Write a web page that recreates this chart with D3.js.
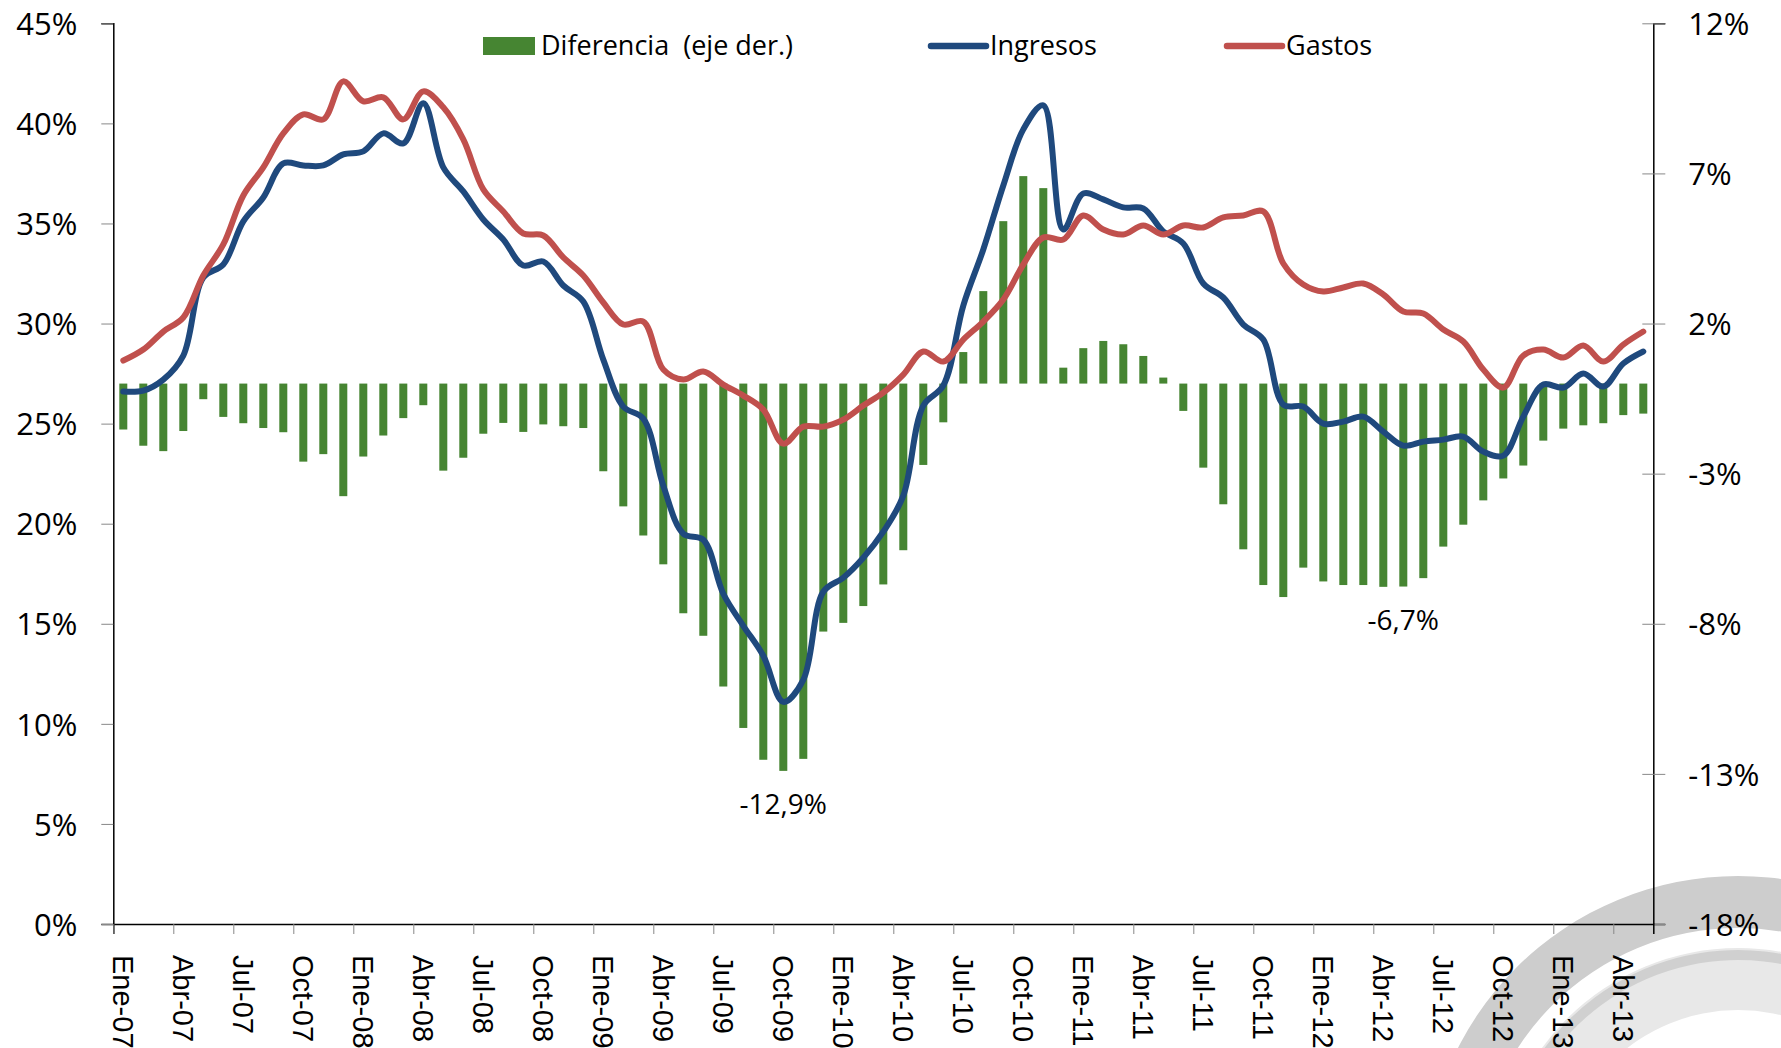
<!DOCTYPE html>
<html>
<head>
<meta charset="utf-8">
<script src="https://cdn.jsdelivr.net/npm/d3@7"></script>
<style>
  body { margin: 0; background: #fff; }
  svg { display: block; }
</style>
</head>
<body>
<div id="chart"></div>
<script>
const meses = ["Ene", "Feb", "Mar", "Abr", "May", "Jun", "Jul", "Ago", "Sep", "Oct", "Nov", "Dic"]
const anios = ["07", "08", "09", "10", "11", "12", "13"]
// Ene-07 ... May-13
const categorias = anios.flatMap(a => meses.map(m => `${m}-${a}`)).slice(0, 77)

const ingresos = [
  26.6, 26.65, 27.2, 28.4, 32.3, 32.95, 35.1, 36.3, 38.0, 37.9, 37.9, 38.45,
  38.6, 39.5, 39.0, 41.0, 37.8, 36.6, 35.2, 34.2, 32.9, 33.1, 31.9, 31.1,
  28.2, 25.85, 25.25, 21.9, 19.5, 19.2, 16.5, 14.9, 13.4, 11.1, 12.2, 16.6,
  17.3, 18.3, 19.6, 21.4, 25.9, 26.9, 30.9, 33.7, 36.9, 39.7, 40.9, 34.7,
  36.5, 36.2, 35.8, 35.75, 34.6, 34.0, 32.0, 31.3, 29.95, 29.2, 25.95, 25.85,
  25.0, 25.1, 25.35, 24.6, 23.9, 24.1, 24.2, 24.35, 23.6, 23.4, 25.35, 26.95,
  26.8, 27.5, 26.85, 28.0, 28.6
]

const gastos = [
  28.15, 28.7, 29.6, 30.3, 32.4, 33.95, 36.4, 37.8, 39.5, 40.45, 40.2, 42.1,
  41.1, 41.3, 40.2, 41.6, 40.8, 39.2, 36.7, 35.6, 34.5, 34.4, 33.3, 32.4,
  31.05, 29.95, 30.1, 27.7, 27.2, 27.6, 26.95, 26.4, 25.7, 24.0, 24.85, 24.85,
  25.2, 25.9, 26.55, 27.45, 28.6, 28.1, 29.2, 30.1, 31.2, 32.95, 34.3, 34.2,
  35.4, 34.7, 34.45, 34.9, 34.45, 34.9, 34.8, 35.3, 35.4, 35.6, 33.0, 31.95,
  31.6, 31.8, 32.0, 31.45, 30.6, 30.5, 29.7, 29.1, 27.7, 26.8, 28.4, 28.7,
  28.3, 28.9, 28.1, 28.95, 29.6
]

// eje derecho
const diferencia = [
  -1.53, -2.07, -2.25, -1.58, -0.52, -1.11, -1.32, -1.48, -1.62, -2.6, -2.35, -3.75,
  -2.43, -1.73, -1.15, -0.72, -2.9, -2.47, -1.67, -1.31, -1.61, -1.36, -1.42, -1.48,
  -2.92, -4.09, -5.06, -6.02, -7.65, -8.4, -10.09, -11.47, -12.53, -12.9, -12.5, -8.26,
  -7.97, -7.41, -6.69, -5.55, -2.71, -1.29, 1.05, 3.08, 5.41, 6.91, 6.51, 0.53,
  1.18, 1.42, 1.31, 0.92, 0.2, -0.91, -2.8, -4.02, -5.52, -6.71, -7.11, -6.13,
  -6.59, -6.71, -6.71, -6.77, -6.76, -6.48, -5.43, -4.7, -3.89, -3.16, -2.73, -1.9,
  -1.5, -1.39, -1.32, -1.05, -1.0
]

const ticksIzq = [0, 5, 10, 15, 20, 25, 30, 35, 40, 45]
const ticksDer = [-18, -13, -8, -3, 2, 7, 12]
const etiquetas = [{ i: 33, texto: "-12,9%" }, { i: 64, texto: "-6,7%" }]

const width = 1781
const height = 1048
const font = "'Open Sans', 'Noto Sans', sans-serif"
const colors = { dif: "#468532", ing: "#1F497D", gas: "#C0504D" }

const svg = d3
  .select("#chart")
  .append("svg")
  .attr("width", width)
  .attr("height", height)
  .attr("viewBox", [0, 0, width, height])
  .style("font-family", font)

// marca de agua (logo) abajo a la derecha
const wm = svg.append("g").attr("transform", "translate(1738,1190)")
wm.append("path")
  .attr("d", d3.arc()({ innerRadius: 262, outerRadius: 314, startAngle: 0, endAngle: 2 * Math.PI }))
  .attr("fill", "#cdcdcd")
wm.append("path")
  .attr("d", d3.arc()({ innerRadius: 180, outerRadius: 242, startAngle: 0, endAngle: 2 * Math.PI }))
  .attr("fill", "#e8e8e8")
wm.append("path")
  .attr("d", d3.arc()({ innerRadius: 230, outerRadius: 240, startAngle: -1.2, endAngle: 0.3 }))
  .attr("fill", "#d0d0d0")

const plotLeft = 113.3
const plotRight = 1653.3
const plotTop = 23.3
const plotBottom = 924

const x = d3
  .scaleBand()
  .domain(categorias)
  .range([plotLeft, plotRight])
  .paddingInner(0.6)
  .paddingOuter(0.3)
const cx = i => x(categorias[i]) + x.bandwidth() / 2
const edge = d3.scaleLinear().domain([0, categorias.length]).range([plotLeft, plotRight])

const yL = d3.scaleLinear().domain([0, 45]).range([plotBottom, plotTop])
const yR = d3.scaleLinear().domain([-18, 12]).range([plotBottom, plotTop])

// barras
svg.append("g")
  .selectAll("rect")
  .data(diferencia)
  .join("rect")
  .attr("x", (d, i) => x(categorias[i]))
  .attr("width", x.bandwidth())
  .attr("y", d => yR(Math.max(0, d)))
  .attr("height", d => Math.abs(yR(d) - yR(0)))
  .attr("fill", colors.dif)

// lineas
const line = data => d3
  .line()
  .x((d, i) => cx(i))
  .y(d => yL(d))
  .curve(d3.curveCatmullRom.alpha(0.5))(data)

svg.append("path")
  .attr("d", line(ingresos))
  .attr("fill", "none")
  .attr("stroke", colors.ing)
  .attr("stroke-width", 6)
  .attr("stroke-linejoin", "round")
  .attr("stroke-linecap", "round")

svg.append("path")
  .attr("d", line(gastos))
  .attr("fill", "none")
  .attr("stroke", colors.gas)
  .attr("stroke-width", 6)
  .attr("stroke-linejoin", "round")
  .attr("stroke-linecap", "round")

// etiquetas de datos
svg.append("g")
  .selectAll("text")
  .data(etiquetas)
  .join("text")
  .attr("x", d => cx(d.i))
  .attr("y", d => yR(diferencia[d.i]) + 43)
  .attr("text-anchor", "middle")
  .attr("font-size", 28)
  .attr("fill", "#000")
  .text(d => d.texto)

// eje izquierdo
const axL = svg.append("g")
  .attr("transform", `translate(${plotLeft},0)`)
  .call(d3.axisLeft(yL).tickValues(ticksIzq).tickSize(12).tickPadding(24).tickFormat(d => d + "%"))
axL.select(".domain").attr("stroke", "#000").attr("stroke-width", 1.5)
axL.selectAll(".tick line").attr("stroke", "#888")
axL.selectAll(".tick text")
  .attr("font-family", font)
  .attr("font-size", 31)
  .attr("fill", "#000")
  .attr("dy", "0.36em")

// eje derecho
const axR = svg.append("g")
  .attr("transform", `translate(${plotRight},0)`)
  .call(d3.axisRight(yR).tickValues(ticksDer).tickSize(12).tickPadding(23).tickFormat(d => d + "%"))
axR.select(".domain").attr("stroke", "#000").attr("stroke-width", 1.5)
axR.selectAll(".tick line").attr("x1", -11).attr("stroke", "#888")
axR.selectAll(".tick text")
  .attr("font-family", font)
  .attr("font-size", 31)
  .attr("fill", "#000")
  .attr("dy", "0.36em")

// eje x
const axX = svg.append("g")
  .attr("transform", `translate(0,${plotBottom})`)
  .call(d3.axisBottom(edge).tickValues(d3.range(0, categorias.length, 3)).tickSize(10).tickFormat(i => categorias[i]))
axX.select(".domain").attr("stroke", "#000").attr("stroke-width", 1.5)
axX.selectAll(".tick line").attr("stroke", "#888")
axX.selectAll(".tick text")
  .attr("font-family", "'Liberation Sans', Arial, sans-serif")
  .attr("font-size", 29)
  .attr("fill", "#000")
  .attr("text-anchor", "start")
  .attr("transform", "rotate(90)")
  .attr("x", 31)
  .attr("y", 1)
  .attr("dy", 0)

// leyenda
const legend = svg.append("g").attr("font-size", 27)
legend.append("rect")
  .attr("x", 483).attr("y", 37).attr("width", 52).attr("height", 18)
  .attr("fill", colors.dif)
legend.append("text").attr("x", 541).attr("y", 55).text("Diferencia\u00a0 (eje der.)")

const items = [
  { name: "Ingresos", color: colors.ing, x: 931 },
  { name: "Gastos", color: colors.gas, x: 1227 }
]
items.forEach(it => {
  legend.append("line")
    .attr("x1", it.x).attr("x2", it.x + 55)
    .attr("y1", 46).attr("y2", 46)
    .attr("stroke", it.color)
    .attr("stroke-width", 6.5)
    .attr("stroke-linecap", "round")
  legend.append("text").attr("x", it.x + 59).attr("y", 55).text(it.name)
})
</script>
</body>
</html>
